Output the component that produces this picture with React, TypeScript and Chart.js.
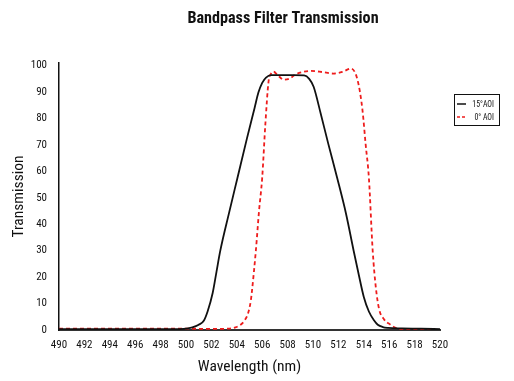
import React, { useEffect, useRef } from "react";
import { Chart, registerables } from "chart.js";

Chart.register(...registerables);

const chartTitle = "Bandpass Filter Transmission";
const xAxisTitle = "Wavelength (nm)";
const yAxisTitle = "Transmission";
const seriesNames = ["15°AOI", "0° AOI"];

const wavelengths15 = [490, 495, 499, 499.8, 500.5, 501, 501.4, 501.7, 502.1, 502.4, 502.7, 503.4, 504.05, 504.8, 505.4, 505.7, 506.0, 506.3, 506.7, 507.2, 508.5, 509.3, 509.7, 510.05, 510.6, 511.2, 511.9, 512.6, 513.2, 513.6, 514.0, 514.4, 514.8, 515.1, 515.5, 515.9, 517, 518.5, 520];
const transmission15 = [0.3, 0.3, 0.3, 0.4, 1, 2, 3.5, 7, 14, 22, 30, 44.5, 57.5, 72.5, 84, 89.8, 93.5, 95.5, 96.4, 96.4, 96.4, 96.3, 95, 92, 82, 70.5, 57.6, 44, 30, 21, 12.5, 7, 3.7, 2, 1.1, 0.8, 0.6, 0.5, 0.3];

const wavelengths0 = [490, 495, 500, 502, 503.3, 503.9, 504.3, 504.6, 504.9, 505.1, 505.2, 505.5, 505.75, 506.0, 506.25, 506.5, 506.7, 506.9, 507.2, 507.7, 508.2, 508.6, 509.2, 509.8, 510.7, 511.6, 512.3, 513.0, 513.3, 513.5, 513.7, 513.9, 514.15, 514.4, 514.7, 514.95, 515.2, 515.6, 516.1, 516.5, 516.8, 518, 520];
const transmission0 = [0.5, 0.5, 0.5, 0.4, 0.5, 1, 2, 3.5, 6.5, 11, 15, 30, 45, 57.6, 78, 94, 97, 97.7, 96.5, 94.7, 95.2, 96.6, 97.6, 98, 97.6, 97, 97.6, 98.9, 97.5, 94.7, 90, 83, 70, 57.6, 30, 16, 8, 4, 2, 0.8, 0.3, 0, 0];

const xTickValues = [490, 492, 494, 496, 498, 500, 502, 504, 506, 508, 510, 512, 514, 516, 518, 520];
const yTickValues = [0, 10, 20, 30, 40, 50, 60, 70, 80, 90, 100];

const seriesColors = ["#111111", "#ee1c1c"];
const FONT = "'Roboto Condensed', 'DejaVu Sans Condensed', sans-serif";

const overlayPlugin = {
  id: "overlay",
  afterDraw(chart: any) {
    const ctx = chart.ctx as CanvasRenderingContext2D;
    ctx.save();
    // title
    ctx.font = `bold 17px ${FONT}`;
    ctx.fillStyle = "#111";
    ctx.textBaseline = "alphabetic";
    ctx.textAlign = "center";
    ctx.translate(283, 23);
    ctx.scale(0.95, 1);
    ctx.fillText(chartTitle, 0, 0);
    ctx.restore();

    ctx.save();
    // legend box
    ctx.strokeStyle = "#111";
    ctx.lineWidth = 1;
    ctx.strokeRect(454.5, 94.5, 45, 31);
    const rows = [104, 117];
    rows.forEach((y, i) => {
      ctx.beginPath();
      ctx.strokeStyle = seriesColors[i];
      ctx.lineWidth = 1.5;
      ctx.setLineDash(i === 0 ? [] : [3, 2]);
      ctx.moveTo(457, y);
      ctx.lineTo(466, y);
      ctx.stroke();
      ctx.setLineDash([]);
      ctx.save();
      ctx.font = `9.5px ${FONT}`;
      ctx.textAlign = "right";
      ctx.textBaseline = "middle";
      ctx.fillStyle = "#111";
      ctx.translate(494, y + 0.5);
      ctx.scale(0.82, 1);
      ctx.fillText(seriesNames[i], 0, 0);
      ctx.restore();
    });
    ctx.restore();
  },
};

export default function App() {
  const ref = useRef<HTMLCanvasElement>(null);
  useEffect(() => {
    if (!ref.current) return;
    const chart = new Chart(ref.current, {
      type: "line",
      data: {
        datasets: [
          {
            label: seriesNames[0],
            data: wavelengths15.map((x, i) => ({ x, y: transmission15[i] })),
            borderColor: seriesColors[0],
            borderWidth: 1.8,
            pointRadius: 0,
            cubicInterpolationMode: "monotone",
            fill: false,
          },
          {
            label: seriesNames[1],
            data: wavelengths0.map((x, i) => ({ x, y: transmission0[i] })),
            borderColor: seriesColors[1],
            borderWidth: 1.8,
            borderDash: [4, 3],
            pointRadius: 0,
            cubicInterpolationMode: "monotone",
            fill: false,
          },
        ],
      },
      options: {
        animation: false,
        responsive: false,
        events: [],
        layout: { padding: { top: 63, right: 74, left: 0, bottom: 0 } },
        plugins: {
          legend: { display: false },
          title: { display: false },
          tooltip: { enabled: false },
        },
        scales: {
          x: {
            type: "linear",
            min: 490,
            max: 520,
            afterFit: (s: any) => {
              s.height = 51;
            },
            afterBuildTicks: (s: any) => {
              s.ticks = xTickValues.map((v) => ({ value: v }));
            },
            grid: { display: false, drawTicks: false },
            border: { display: true, color: "#333", width: 2 },
            ticks: {
              padding: 9,
              color: "#111",
              maxRotation: 0,
              autoSkip: false,
              font: { family: FONT, size: 11 },
            },
            title: {
              display: true,
              text: xAxisTitle,
              color: "#111",
              font: { family: FONT, size: 15.5 },
              padding: { top: 0, bottom: 4.7 },
            },
          },
          y: {
            type: "linear",
            min: 0,
            max: 101,
            afterFit: (s: any) => {
              s.width = 59;
            },
            afterBuildTicks: (s: any) => {
              s.ticks = yTickValues.map((v) => ({ value: v }));
            },
            grid: { display: false, drawTicks: false },
            border: { display: true, color: "#111", width: 1.5 },
            ticks: {
              padding: 12,
              color: "#111",
              autoSkip: false,
              font: { family: FONT, size: 11 },
            },
            title: {
              display: true,
              text: yAxisTitle,
              color: "#111",
              font: { family: FONT, size: 15.5 },
              padding: { top: 9.7, bottom: 4 },
            },
          },
        },
      },
      plugins: [overlayPlugin],
    } as any);
    return () => chart.destroy();
  }, []);
  return (
    <div style={{ position: "fixed", left: 0, top: 0, width: 514, height: 381, background: "#fff" }}>
      <canvas ref={ref} width={514} height={381} style={{ display: "block" }} />
    </div>
  );
}
